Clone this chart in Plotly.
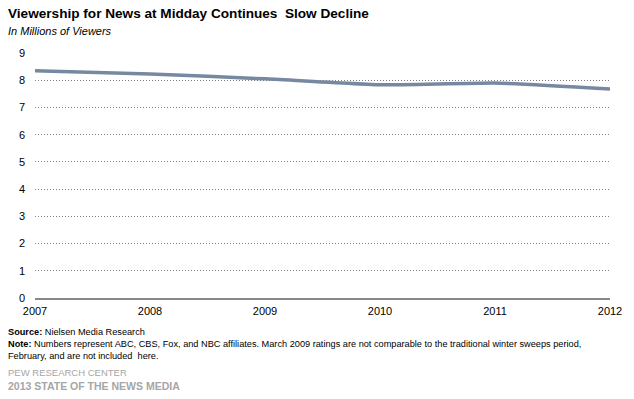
import plotly.graph_objects as go

years = [2007, 2008, 2009, 2010, 2011, 2012]
viewers = [8.35, 8.23, 8.05, 7.83, 7.90, 7.68]
y_ticks = [0, 1, 2, 3, 4, 5, 6, 7, 8, 9]

FONT = "Liberation Sans, Arial, sans-serif"

fig = go.Figure()
fig.add_trace(go.Scatter(
    x=years, y=viewers, mode="lines",
    line=dict(color="#7689a1", width=3.5, shape="spline", smoothing=0.4),
    hoverinfo="x+y", showlegend=False,
))

fig.update_layout(
    width=634, height=399,
    margin=dict(l=35, r=17, t=53, b=101),
    paper_bgcolor="white", plot_bgcolor="white",
    font=dict(family=FONT, size=11, color="black"),
    xaxis=dict(
        range=[2007, 2012], tickvals=years, ticktext=[str(y) for y in years],
        showgrid=False, zeroline=False,
        showline=True, linecolor="#888888", linewidth=1.5,
        ticks="", tickfont=dict(size=11, family=FONT), ticklabelstandoff=2,
    ),
    yaxis=dict(
        range=[0, 9], tickvals=y_ticks,
        showgrid=True, gridcolor="#808080", griddash="1px,2px", gridwidth=1,
        zeroline=False, showline=False, ticks="",
        tickfont=dict(size=11, family=FONT), ticklabelstandoff=9,
    ),
)

def ann(text, px, py, size, color="black"):
    fig.add_annotation(text=text, xref="paper", yref="paper",
                       x=(px - 35) / (634 - 35 - 17), y=(399 - 101 - py) / (399 - 53 - 101),
                       xanchor="left", yanchor="middle", showarrow=False,
                       font=dict(size=size, family=FONT, color=color), align="left")

ann("<b>Viewership for News at Midday Continues  Slow Decline</b>", 6, 13, 13.6)
ann("<i>In Millions of Viewers</i>", 6, 31, 11)
ann("<b>Source:</b> Nielsen Media Research", 6, 332, 9.2)
ann("<b>Note:</b> Numbers represent ABC, CBS, Fox, and NBC affiliates. March 2009 ratings are not comparable to the traditional winter sweeps period,", 6, 344, 9.2)
ann("February, and are not included  here.", 6, 356, 9.2)
ann("PEW RESEARCH CENTER", 6, 372, 9.5, "#a6a6a6")
ann("<b>2013 STATE OF THE NEWS MEDIA</b>", 6, 386, 10.5, "#a6a6a6")

fig.write_html("out.html", config={"displayModeBar": False},
               post_script="document.body.style.margin='0';document.body.style.padding='0';")
